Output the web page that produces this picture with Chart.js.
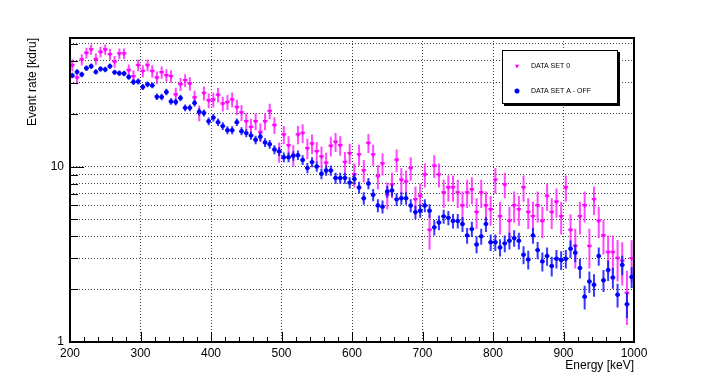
<!DOCTYPE html>
<html>
<head>
<meta charset="utf-8">
<script src="https://cdn.jsdelivr.net/npm/chart.js@4.4.0/dist/chart.umd.min.js"></script>
<style>
  body { margin: 0; background: #fff; }
  canvas { display: block; background: #fff; }
</style>
</head>
<body>
<canvas id="myChart" width="706" height="384"></canvas>
<script>
// bin centres [keV], 120 bins between 200 and 1000
const energy = [
  203.3, 210, 216.7, 223.3, 230, 236.7, 243.3, 250, 256.7, 263.3,
  270, 276.7, 283.3, 290, 296.7, 303.3, 310, 316.7, 323.3, 330,
  336.7, 343.3, 350, 356.7, 363.3, 370, 376.7, 383.3, 390, 396.7,
  403.3, 410, 416.7, 423.3, 430, 436.7, 443.3, 450, 456.7, 463.3,
  470, 476.7, 483.3, 490, 496.7, 503.3, 510, 516.7, 523.3, 530,
  536.7, 543.3, 550, 556.7, 563.3, 570, 576.7, 583.3, 590, 596.7,
  603.3, 610, 616.7, 623.3, 630, 636.7, 643.3, 650, 656.7, 663.3,
  670, 676.7, 683.3, 690, 696.7, 703.3, 710, 716.7, 723.3, 730,
  736.7, 743.3, 750, 756.7, 763.3, 770, 776.7, 783.3, 790, 796.7,
  803.3, 810, 816.7, 823.3, 830, 836.7, 843.3, 850, 856.7, 863.3,
  870, 876.7, 883.3, 890, 896.7, 903.3, 910, 916.7, 923.3, 930,
  936.7, 943.3, 950, 956.7, 963.3, 970, 976.7, 983.3, 990, 996.7
];
const binHalfWidth = 3.33;

const rateSet0 = [
  37.8, 32.1, 40.7, 44.4, 46.4, 41.0, 45.0, 46.4, 43.6, 39.6, 44.0, 44.0, 35.4, 32.7, 37.8, 35.0, 37.8, 35.0, 32.1, 34.4, 33.1, 32.7, 25.7, 29.4, 31.0, 29.7, 24.7, 20.2, 26.2, 23.8,
  24.0, 25.6, 22.8, 23.3, 24.1, 21.8, 20.3, 18.1, 16.8, 18.1, 15.7, 18.1, 20.7, 17.2, 12.1, 15.2, 13.2, 11.6, 15.2, 15.5, 12.7, 13.5, 12.2, 11.4, 10.5, 13.1, 13.8, 13.2, 10.6, 11.9,
  9.0, 11.7, 9.5, 13.6, 11.7, 8.8, 10.4, 6.9, 7.9, 10.9, 8.4, 8.2, 9.8, 6.5, 6.8, 9.0, 4.35, 10.1, 9.0, 7.1, 7.6, 7.6, 7.1, 6.0, 7.1, 7.4, 5.5, 7.1, 6.0, 5.7,
  8.4, 5.2, 7.9, 4.9, 6.0, 5.7, 7.6, 5.5, 5.2, 6.0, 4.9, 6.8, 5.5, 6.3, 5.2, 7.6, 4.35, 3.52, 5.2, 6.0, 3.52, 6.5, 4.9, 4.05, 3.25, 3.25, 3.01, 2.9, 1.9, 3.0
];
const errSet0 = [
  2.9, 2.7, 3.0, 3.1, 3.2, 3.0, 3.2, 3.2, 3.1, 3.0, 3.1, 3.1, 2.8, 2.7, 2.9, 2.8, 2.9, 2.8, 2.7, 2.8, 2.7, 2.7, 2.4, 2.5, 2.6, 2.6, 2.3, 2.1, 2.4, 2.3,
  2.3, 2.4, 2.2, 2.3, 2.3, 2.2, 2.1, 2.0, 1.9, 2.0, 1.9, 2.0, 2.1, 1.9, 1.6, 1.8, 1.7, 1.6, 1.8, 1.9, 1.7, 1.7, 1.6, 1.6, 1.5, 1.7, 1.7, 1.7, 1.5, 1.6,
  1.4, 1.6, 1.4, 1.7, 1.6, 1.4, 1.5, 1.2, 1.3, 1.6, 1.4, 1.3, 1.5, 1.2, 1.2, 1.4, 1.0, 1.5, 1.4, 1.3, 1.3, 1.3, 1.3, 1.2, 1.3, 1.3, 1.1, 1.3, 1.2, 1.1,
  1.4, 1.1, 1.3, 1.0, 1.2, 1.1, 1.3, 1.1, 1.1, 1.2, 1.0, 1.2, 1.1, 1.2, 1.1, 1.3, 1.0, 0.9, 1.1, 1.2, 0.9, 1.2, 1.0, 0.9, 0.8, 0.8, 0.8, 0.8, 0.65, 0.8
];

const rateSetA = [
  33.0, 34.6, 33.5, 36.3, 37.3, 34.6, 36.0, 35.7, 37.3, 34.4, 34.0, 33.9, 32.4, 30.3, 30.5, 28.4, 29.4, 29.0, 25.0, 24.9, 26.6, 23.5, 23.3, 24.6, 21.6, 21.6, 23.0, 20.5, 20.2, 18.1,
  19.0, 17.9, 17.0, 16.1, 16.1, 17.9, 15.9, 15.5, 15.0, 14.2, 14.8, 13.7, 13.4, 12.5, 12.2, 11.3, 11.3, 11.5, 11.6, 10.9, 9.8, 10.6, 10.0, 9.1, 9.5, 9.5, 8.6, 8.6, 8.6, 8.1,
  8.5, 7.6, 6.6, 8.0, 6.9, 6.0, 5.9, 7.2, 7.3, 6.5, 6.6, 6.6, 6.0, 5.5, 5.6, 6.0, 5.6, 4.5, 4.8, 5.2, 5.1, 4.9, 4.9, 4.7, 4.05, 4.4, 3.6, 4.0, 4.7, 3.7,
  3.7, 3.46, 3.65, 3.78, 3.91, 3.78, 3.14, 2.95, 4.05, 3.34, 2.88, 3.09, 2.71, 2.98, 2.93, 2.98, 3.40, 3.23, 2.64, 1.81, 2.21, 2.12, 3.09, 2.25, 2.57, 2.33, 1.86, 2.75, 1.64, 2.35
];
const errSetA = [
  1.2, 1.2, 1.2, 1.3, 1.3, 1.2, 1.3, 1.3, 1.3, 1.2, 1.2, 1.2, 1.2, 1.2, 1.2, 1.1, 1.1, 1.1, 1.05, 1.05, 1.1, 1.0, 1.0, 1.05, 0.98, 0.98, 1.0, 0.95, 0.94, 0.9,
  0.92, 0.89, 0.87, 0.84, 0.84, 0.89, 0.84, 0.83, 0.81, 0.79, 0.81, 0.78, 0.77, 0.74, 0.73, 0.71, 0.71, 0.71, 0.72, 0.69, 0.66, 0.68, 0.66, 0.63, 0.65, 0.65, 0.62, 0.62, 0.62, 0.6,
  0.61, 0.58, 0.54, 0.59, 0.55, 0.51, 0.51, 0.56, 0.57, 0.54, 0.54, 0.54, 0.51, 0.49, 0.5, 0.51, 0.5, 0.45, 0.46, 0.48, 0.47, 0.46, 0.46, 0.46, 0.42, 0.44, 0.4, 0.42, 0.46, 0.4,
  0.4, 0.39, 0.4, 0.41, 0.42, 0.41, 0.37, 0.36, 0.42, 0.38, 0.36, 0.37, 0.35, 0.36, 0.36, 0.36, 0.39, 0.38, 0.34, 0.28, 0.31, 0.31, 0.37, 0.32, 0.34, 0.32, 0.29, 0.35, 0.27, 0.32
];

const yTickValues = [1, 2, 3, 4, 5, 6, 7, 8, 9, 10, 20, 30, 40, 50];
const yTickLabels = ["1", "10"];
const seriesNames = ["DATA SET 0", "DATA SET A - OFF"];

Chart.defaults.font.family = "'Liberation Sans', Arial, Helvetica, sans-serif";
Chart.defaults.color = "#000";

const toPoints = (vals) => energy.map((e, i) => ({ x: e, y: vals[i] }));

// vertical (stat) and horizontal (bin width) error bars, drawn under each dataset's markers
const errorBars = {
  id: "errorBars",
  beforeDatasetDraw(chart, args) {
    const ds = chart.data.datasets[args.index];
    const { ctx, chartArea, scales: { x, y } } = chart;
    ctx.save();
    ctx.beginPath();
    ctx.rect(chartArea.left, chartArea.top, chartArea.right - chartArea.left, chartArea.bottom - chartArea.top);
    ctx.clip();
    ctx.strokeStyle = ds.barColor;
    ctx.lineWidth = 2;
    ds.data.forEach((p, i) => {
      const e = ds.errors[i];
      const px = x.getPixelForValue(p.x);
      const py = y.getPixelForValue(p.y);
      ctx.beginPath();
      ctx.moveTo(px, y.getPixelForValue(p.y + e));
      ctx.lineTo(px, y.getPixelForValue(Math.max(p.y - e, 0.5)));
      ctx.moveTo(x.getPixelForValue(p.x - binHalfWidth), py);
      ctx.lineTo(x.getPixelForValue(p.x + binHalfWidth), py);
      ctx.stroke();
    });
    ctx.restore();
  }
};

// ROOT-like frame, inner tick marks and legend box
const frameAndLegend = {
  id: "frameAndLegend",
  afterDraw(chart) {
    const { ctx, chartArea: { left, right, top, bottom }, scales: { x, y } } = chart;
    ctx.save();
    ctx.strokeStyle = "#000";
    ctx.lineWidth = 1;
    ctx.beginPath();
    for (let v = 200; v <= 1000; v += 20) {
      const px = Math.round(x.getPixelForValue(v)) + 0.5;
      const len = v % 100 === 0 ? 10 : 5;
      ctx.moveTo(px, bottom);
      ctx.lineTo(px, bottom - len);
    }
    yTickValues.forEach((v) => {
      const py = Math.round(y.getPixelForValue(v)) + 0.5;
      const len = v === 1 || v === 10 ? 14 : 8;
      ctx.moveTo(left, py);
      ctx.lineTo(left + len, py);
    });
    ctx.stroke();

    ctx.lineWidth = 2;
    ctx.strokeRect(left, top, right - left, bottom - top);

    // legend
    const bx = 502, by = 50, bw = 116, bh = 54;
    ctx.fillStyle = "#000";
    ctx.fillRect(bx + 2, by + 2, bw, bh);
    ctx.fillStyle = "#fff";
    ctx.fillRect(bx, by, bw, bh);
    ctx.lineWidth = 1;
    ctx.strokeRect(bx + 0.5, by + 0.5, bw - 1, bh - 1);

    ctx.font = "7px 'Liberation Sans', Arial, sans-serif";
    ctx.textBaseline = "middle";
    ctx.textAlign = "left";
    chart.data.datasets.forEach((ds, i) => {
      const ly = by + 16 + i * 25;
      ctx.fillStyle = ds.backgroundColor;
      Chart.helpers.drawPoint(ctx, { pointStyle: ds.pointStyle, radius: 2.5, rotation: ds.rotation || 0, borderWidth: 0 }, bx + 15, ly);
      ctx.fillStyle = "#000";
      ctx.fillText(ds.label, bx + 29, ly);
    });
    ctx.restore();
  }
};

new Chart(document.getElementById("myChart"), {
  type: "scatter",
  data: {
    datasets: [
      {
        label: seriesNames[0],
        data: toPoints(rateSet0),
        errors: errSet0,
        barColor: "rgba(255, 40, 255, 0.85)",
        backgroundColor: "#ff00ff",
        borderWidth: 0,
        pointStyle: "triangle",
        rotation: 180,
        pointRadius: 2.7,
        order: 2
      },
      {
        label: seriesNames[1],
        data: toPoints(rateSetA),
        errors: errSetA,
        barColor: "rgba(20, 20, 255, 0.85)",
        backgroundColor: "#0000ff",
        borderWidth: 0,
        pointStyle: "circle",
        pointRadius: 2.2,
        order: 1
      }
    ]
  },
  options: {
    responsive: false,
    animation: false,
    layout: { padding: { top: 38, right: 72, left: 0, bottom: 0 } },
    plugins: { legend: { display: false }, tooltip: { enabled: false } },
    scales: {
      x: {
        type: "linear",
        min: 200,
        max: 1000,
        afterFit: (scale) => { scale.height = 42; },
        ticks: { stepSize: 100, padding: 4, font: { size: 12 }, maxRotation: 0, callback: (v) => String(v) },
        grid: { color: "rgba(0,0,0,0.75)", drawTicks: false, lineWidth: 1 },
        border: { display: false, dash: [1, 2] },
        title: { display: true, text: "Energy [keV]", align: "end", font: { size: 12 }, padding: { top: 0, bottom: 11 } }
      },
      y: {
        type: "logarithmic",
        min: 1,
        max: 54,
        afterFit: (scale) => { scale.width = 70; },
        afterBuildTicks: (scale) => { scale.ticks = yTickValues.map((v) => ({ value: v })); },
        ticks: {
          autoSkip: false,
          padding: 6,
          font: { size: 12 },
          callback: (v) => (yTickLabels.includes(String(v)) ? String(v) : "")
        },
        grid: { color: "rgba(0,0,0,0.75)", drawTicks: false, lineWidth: 1 },
        border: { display: false, dash: [1, 2] },
        title: { display: true, text: "Event rate [kdru]", align: "end", font: { size: 12 }, padding: { top: 25, bottom: 0 } }
      }
    }
  },
  plugins: [errorBars, frameAndLegend]
});
</script>
</body>
</html>
